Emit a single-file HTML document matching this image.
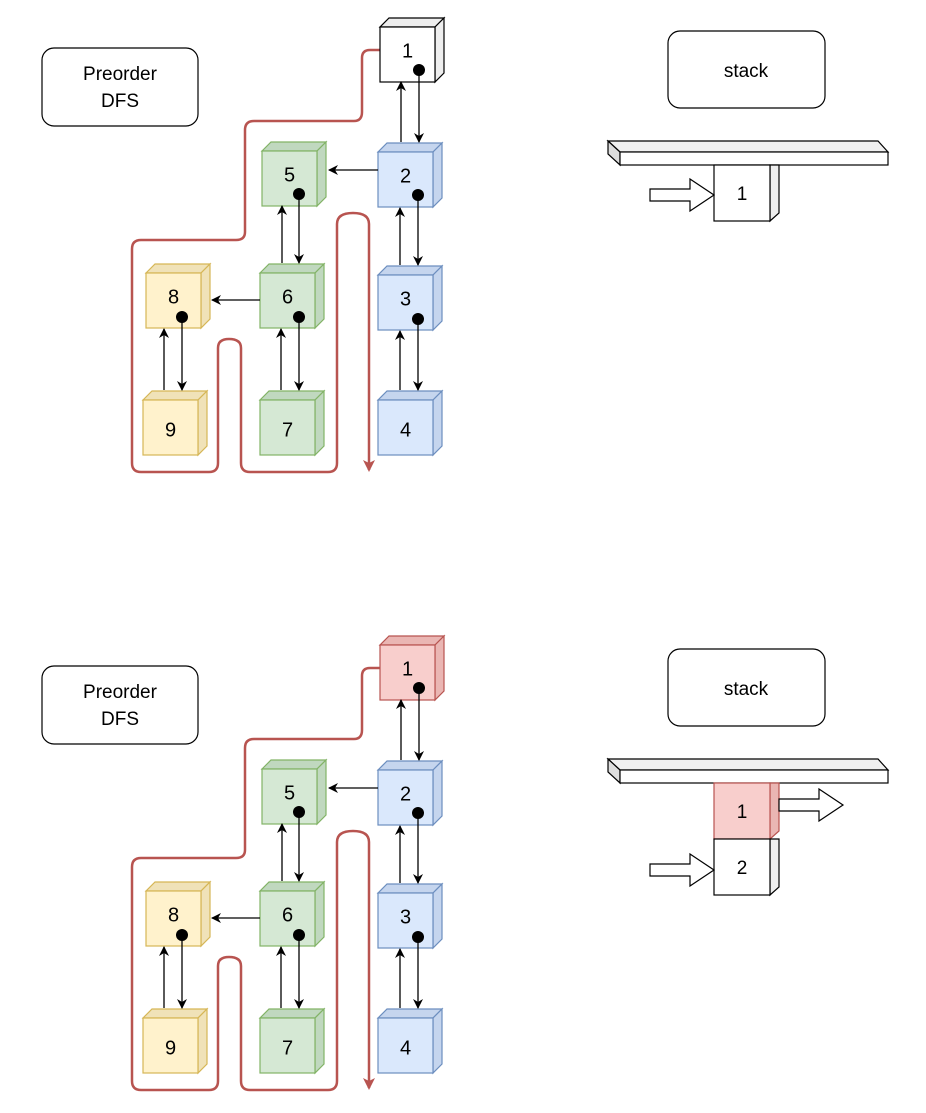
<!DOCTYPE html>
<html><head><meta charset="utf-8"><style>
body{margin:0;background:#fff}
svg text{font-family:"Liberation Sans",sans-serif}
</style></head><body>
<svg width="926" height="1108" viewBox="0 0 926 1108" xmlns="http://www.w3.org/2000/svg">
<defs>
<marker id="ah" markerWidth="10" markerHeight="10" refX="9" refY="5" orient="auto" markerUnits="userSpaceOnUse"><path d="M0,0 L10,5 L0,10 L3,5 z" fill="#000"/></marker>
<marker id="rh" markerWidth="12" markerHeight="12" refX="10" refY="6" orient="auto" markerUnits="userSpaceOnUse"><path d="M0,0 L12,6 L0,12 L3,6 z" fill="#b85450"/></marker>
<g id="half">
  <rect x="42" y="48" width="156" height="78" rx="12" fill="#fff" stroke="#000" stroke-width="1.2"/>
  <text x="120" y="80" font-size="19" text-anchor="middle">Preorder</text>
  <text x="120" y="107" font-size="19" text-anchor="middle">DFS</text>
  <!-- red path -->
  <path d="M380,50 L370,50 Q362,50 362,58 L362,112 Q362,121 354,121 L254,121 Q245,121 245,130 L245,232 Q245,240 236,240 L141,240 Q132,240 132,249 L132,463 Q132,472 141,472 L209,472 Q218,472 218,463 L218,348 Q218,339 229,339 Q241,339 241,348 L241,463 Q241,472 250,472 L328,472 Q337,472 337,463 L337,224 Q337,213 353,213 Q369,213 369,224 L369,470" fill="none" stroke="#b85450" stroke-width="2.5" marker-end="url(#rh)"/>
</g>
</defs>
<g id="top">
<use href="#half"/>
</g>
<g transform="translate(0,618)"><use href="#half"/></g>
<g id="cubesT"></g>
<!-- cubes: function-like repeated via groups -->
<g id="cubes">
</g>
<script>
const ns="http://www.w3.org/2000/svg";
const svg=document.querySelector('svg');
function el(t,a,p){const e=document.createElementNS(ns,t);for(const k in a)e.setAttribute(k,a[k]);(p||svg).appendChild(e);return e;}
const Y=[0,618];
const cubes=[
 [1,380,27,'#ffffff','#000','#eeeeee'],
 [2,378,152,'#dae8fc','#6c8ebf','#c5d5ee'],
 [3,378,275,'#dae8fc','#6c8ebf','#c5d5ee'],
 [4,378,400,'#dae8fc','#6c8ebf','#c5d5ee'],
 [5,262,151,'#d5e8d4','#82b366','#c0d8bf'],
 [6,260,273,'#d5e8d4','#82b366','#c0d8bf'],
 [7,260,400,'#d5e8d4','#82b366','#c0d8bf'],
 [8,146,273,'#fff2cc','#d6b656','#f0e2b8'],
 [9,143,400,'#fff2cc','#d6b656','#f0e2b8'],
];
const dots={1:1,2:1,3:1,5:1,6:1,8:1};
Y.forEach((oy,h)=>{
 cubes.forEach(c=>{
  let [n,x,y,f,s,d]=c; y+=oy; const w=55,dp=9;
  if(h==1&&n==1){f='#f8cecc';s='#b85450';d='#eab6b3';}
  el('path',{d:`M${x},${y} L${x+dp},${y-dp} L${x+w+dp},${y-dp} L${x+w},${y} z`,fill:d,stroke:s,'stroke-width':1.2});
  el('path',{d:`M${x+w},${y} L${x+w+dp},${y-dp} L${x+w+dp},${y+w-dp} L${x+w},${y+w} z`,fill:d,stroke:s,'stroke-width':1.2});
  el('rect',{x:x,y:y,width:w,height:w,fill:f,stroke:s,'stroke-width':1.2});
  const t=el('text',{x:x+w/2,y:y+w/2+(dots[n]?3:9),'font-size':20,'text-anchor':'middle'});t.textContent=n;
 });
 const A=(x1,y1,x2,y2)=>el('line',{x1:x1,y1:y1+oy,x2:x2,y2:y2+oy,stroke:'#000','stroke-width':1.3,'marker-end':'url(#ah)'});
 A(401,142,401,82);A(419,70,419,142);
 A(400,265,400,208);A(418,195,418,265);
 A(400,390,400,331);A(418,319,418,390);
 A(378,170,329,170);
 A(282,263,282,206);A(299,194,299,263);
 A(260,300,212,300);
 A(281,390,281,329);A(299,317,299,390);
 A(164,390,164,329);A(182,317,182,390);
 [[419,70],[418,195],[418,319],[299,194],[299,317],[182,317]].forEach(p=>el('circle',{cx:p[0],cy:p[1]+oy,r:6,fill:'#000'}));
 // stack label
 el('rect',{x:668,y:31+oy,width:157,height:77,rx:12,fill:'#fff',stroke:'#000','stroke-width':1.2});
 const st=el('text',{x:746,y:77+oy,'font-size':19,'text-anchor':'middle'});st.textContent='stack';
 // bar
 el('path',{d:`M608,${141+oy} L878,${141+oy} L888,${152+oy} L620,${152+oy} z`,fill:'#f0f0f0',stroke:'#000','stroke-width':1.2});
 el('path',{d:`M608,${141+oy} L620,${152+oy} L620,${165+oy} L608,${154+oy} z`,fill:'#ddd',stroke:'#000','stroke-width':1.2});
 el('rect',{x:620,y:152+oy,width:268,height:13,fill:'#fff',stroke:'#000','stroke-width':1.2});
});
function block(x,y,n,f,s,d){
 el('path',{d:`M${x+56},${y} L${x+65},${y} L${x+65},${y+48} L${x+56},${y+56} z`,fill:d,stroke:s,'stroke-width':1.2});
 el('rect',{x:x,y:y,width:56,height:56,fill:f,stroke:s,'stroke-width':1.2});
 const t=el('text',{x:x+28,y:y+35,'font-size':19,'text-anchor':'middle'});t.textContent=n;
}
function harrow(x,y){
 el('path',{d:`M${x},${y-6} L${x+40},${y-6} L${x+40},${y-16} L${x+64},${y} L${x+40},${y+16} L${x+40},${y+6} L${x},${y+6} z`,fill:'#fff',stroke:'#000','stroke-width':1.2});
}
block(714,165,1,'#fff','#000','#eee');
harrow(650,195);
block(714,783,1,'#f8cecc','#b85450','#eab6b3');
block(714,839,2,'#fff','#000','#eee');
harrow(650,870);
harrow(779,805);
</script>
</svg>
</body></html>
